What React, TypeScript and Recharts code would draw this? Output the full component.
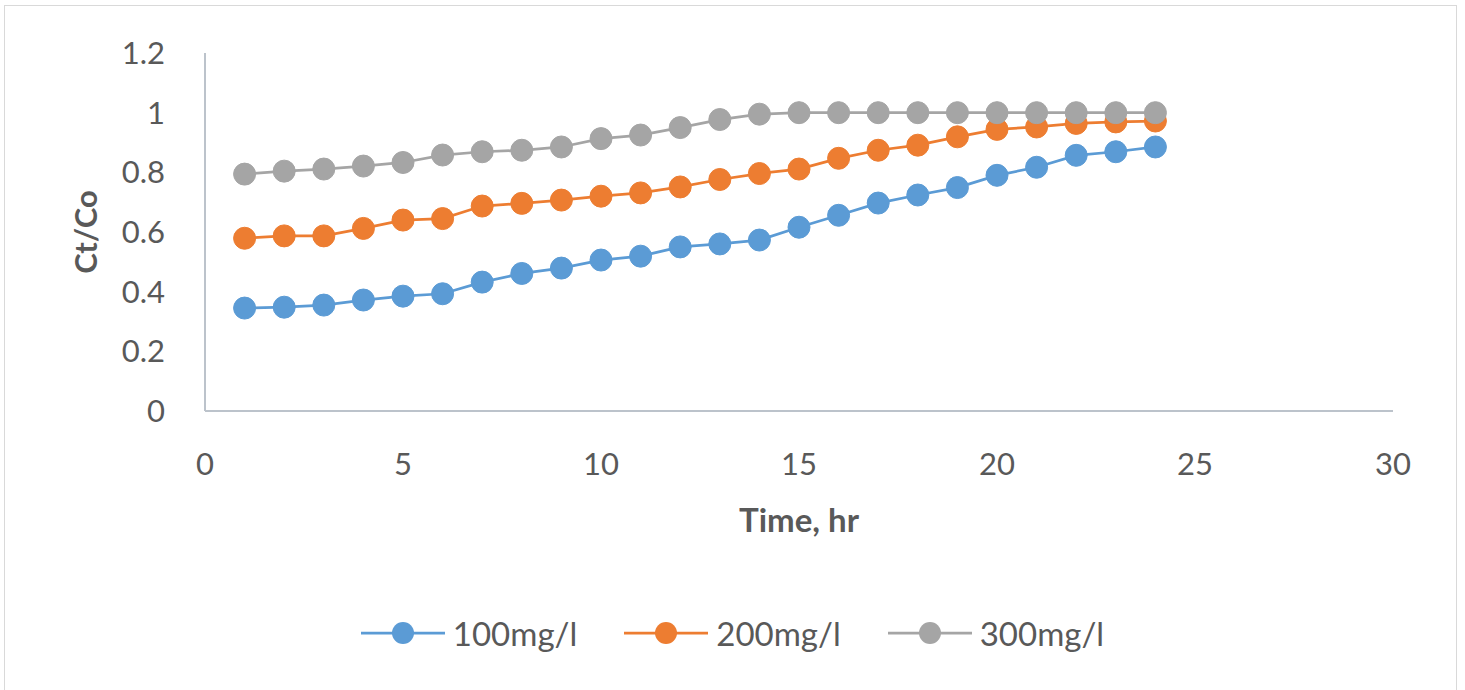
import React from "react";
import { LineChart, Line, XAxis, YAxis, Legend } from "recharts";

// Breakthrough data: Ct/Co against time for three inlet concentrations
const TIME_HR = [1, 2, 3, 4, 5, 6, 7, 8, 9, 10, 11, 12, 13, 14, 15, 16, 17, 18, 19, 20, 21, 22, 23, 24];
const CT_CO_100 = [0.345, 0.348, 0.355, 0.372, 0.385, 0.393, 0.432, 0.461, 0.479, 0.506, 0.519, 0.55, 0.56, 0.573, 0.616, 0.656, 0.697, 0.724, 0.749, 0.79, 0.817, 0.857, 0.869, 0.885];
const CT_CO_200 = [0.579, 0.587, 0.587, 0.612, 0.64, 0.645, 0.687, 0.696, 0.707, 0.72, 0.731, 0.751, 0.776, 0.796, 0.811, 0.847, 0.874, 0.891, 0.919, 0.944, 0.952, 0.964, 0.969, 0.972];
const CT_CO_300 = [0.794, 0.804, 0.811, 0.821, 0.833, 0.858, 0.869, 0.874, 0.885, 0.913, 0.925, 0.95, 0.977, 0.995, 1, 1, 1, 1, 1, 1, 1, 1, 1, 1];

const SERIES_NAMES = ["100mg/l", "200mg/l", "300mg/l"];
const SERIES_KEYS = ["c100", "c200", "c300"];
const SERIES_COLORS = ["#5b9bd5", "#ed7d31", "#a5a5a5"];

const X_TICKS = [0, 5, 10, 15, 20, 25, 30];
const Y_TICKS = [0, 0.2, 0.4, 0.6, 0.8, 1, 1.2];

const data = TIME_HR.map((t, i) => ({
  t,
  c100: CT_CO_100[i],
  c200: CT_CO_200[i],
  c300: CT_CO_300[i],
}));

const FONT = 'Lato, "Open Sans", sans-serif';
const TEXT_COLOR = "#595959";
const AXIS_COLOR = "#bcc3cb";

const LegendRow = () => (
  <div
    style={{
      height: 50,
      display: "flex",
      justifyContent: "center",
      alignItems: "center",
      fontFamily: FONT,
      fontSize: 33,
      color: TEXT_COLOR,
    }}
  >
    {SERIES_NAMES.map((name, i) => (
      <div key={name} style={{ display: "flex", alignItems: "center", marginRight: i < 2 ? 47 : 0 }}>
        <svg width={84} height={26} style={{ marginRight: 8 }}>
          <line x1={0} y1={13} x2={84} y2={13} stroke={SERIES_COLORS[i]} strokeWidth={2.75} />
          <circle cx={42} cy={13} r={11} fill={SERIES_COLORS[i]} />
        </svg>
        <span>{name}</span>
      </div>
    ))}
  </div>
);

const YTitle = (props: any) => {
  const vb = props.viewBox || {};
  const cx = vb.x + 85;
  const cy = vb.y + vb.height / 2;
  return (
    <text
      x={cx}
      y={cy}
      transform={`rotate(-90, ${cx}, ${cy})`}
      textAnchor="middle"
      dominantBaseline="central"
      fill={TEXT_COLOR}
      fontFamily={FONT}
      fontSize={31}
      fontWeight="bold"
    >
      Ct/Co
    </text>
  );
};

export default function App() {
  return (
    <div style={{ position: "absolute", left: 0, top: 0, width: 1465, height: 690, background: "#fff", overflow: "hidden" }}>
      <div
        style={{
          position: "absolute",
          left: 4,
          top: 5,
          width: 1453,
          height: 700,
          border: "1px solid #d9d9d9",
          boxSizing: "border-box",
        }}
      />
      <LineChart
        width={1465}
        height={690}
        data={data}
        margin={{ top: 53, right: 72, left: 0, bottom: 32 }}
        style={{ fontFamily: FONT }}
      >
        <XAxis
          dataKey="t"
          type="number"
          domain={[0, 30]}
          ticks={X_TICKS}
          height={197}
          tickLine={false}
          tickSize={0}
          tickMargin={42}
          axisLine={{ stroke: AXIS_COLOR, strokeWidth: 2 }}
          tick={{ fill: TEXT_COLOR, fontSize: 31, fontFamily: FONT }}
          label={{
            value: "Time, hr",
            position: "insideTop",
            offset: 98,
            fill: TEXT_COLOR,
            fontSize: 33,
            fontWeight: "bold",
            fontFamily: FONT,
          }}
        />
        <YAxis
          type="number"
          domain={[0, 1.2]}
          ticks={Y_TICKS}
          width={205}
          tickLine={false}
          tickSize={0}
          tickMargin={40}
          axisLine={{ stroke: AXIS_COLOR, strokeWidth: 2 }}
          tick={{ fill: TEXT_COLOR, fontSize: 31, fontFamily: FONT }}
          label={YTitle}
        />
        <Legend
          verticalAlign="bottom"
          content={() => <LegendRow />}
          wrapperStyle={{ left: 0, width: 1465 }}
        />
        {SERIES_KEYS.map((key, i) => (
          <Line
            key={key}
            dataKey={key}
            name={SERIES_NAMES[i]}
            stroke={SERIES_COLORS[i]}
            strokeWidth={2.75}
            dot={{ r: 11, fill: SERIES_COLORS[i], stroke: SERIES_COLORS[i], strokeWidth: 1 }}
            isAnimationActive={false}
          />
        ))}
      </LineChart>
    </div>
  );
}
